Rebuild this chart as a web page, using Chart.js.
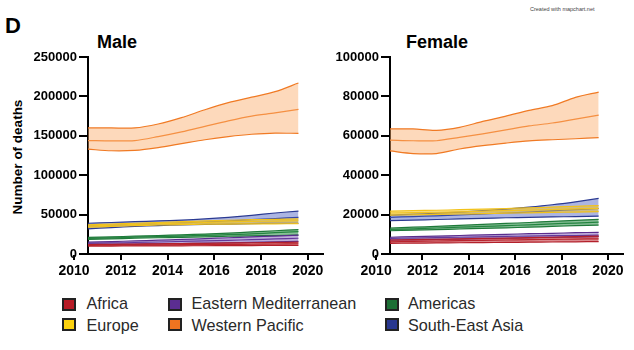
<!DOCTYPE html>
<html>
<head>
<meta charset="utf-8">
<script src="https://cdn.jsdelivr.net/npm/chart.js@4/dist/chart.umd.min.js"></script>
<style>
  body { margin: 0; background: #fff; font-family: "Liberation Sans", Arial, sans-serif; }
  #wrap { position: relative; width: 634px; height: 350px; overflow: hidden; }
  .box { position: absolute; top: 0; width: 330px; height: 290px; }
  .txt { position: absolute; white-space: nowrap; color: #000; }
  .bold { font-weight: bold; }
  .sq { position: absolute; width: 14px; height: 13px; box-sizing: border-box; border: 2px solid #222; }
  .lg { position: absolute; font-size: 16.2px; line-height: 15px; color: #2a2a2a; white-space: nowrap; }
</style>
</head>
<body>
<div id="wrap">
  <div class="txt bold" style="left:5px;top:14.6px;font-size:22px;line-height:22px;">D</div>
  <div class="txt" style="left:530px;top:6px;font-size:5.5px;color:#444;">Created with mapchart.net</div>
  <div class="txt bold" style="left:97px;top:33px;font-size:18px;line-height:18px;">Male</div>
  <div class="txt bold" style="left:406px;top:33px;font-size:18px;line-height:18px;">Female</div>
  <div class="txt bold" style="left:17px;top:157px;font-size:13.5px;transform:translate(-50%,-50%) rotate(-90deg);">Number of deaths</div>

  <div class="box" style="left:0px;"><canvas id="male-chart" width="330" height="290"></canvas></div>
  <div class="box" style="left:300px;"><canvas id="female-chart" width="330" height="290"></canvas></div>

  <div id="legend"></div>
</div>
<script>
// year positions as they sit on the printed axis
const years = [2010.6, 2011.6, 2012.6, 2013.6, 2014.6, 2015.6, 2016.6, 2017.6, 2018.6, 2019.6];
const xTicks = [2010, 2012, 2014, 2016, 2018, 2020];

// all values in thousands of deaths: [lower, estimate, upper]
const maleAfrica = [
  [10, 10.1, 10.2, 10.3, 10.4, 10.5, 10.6, 10.7, 10.9, 11],
  [11, 11.2, 11.4, 11.6, 11.8, 12, 12.2, 12.4, 12.7, 13],
  [12, 12.3, 12.6, 13, 13.3, 13.6, 14, 14.3, 14.7, 15],
];
const maleEastMed = [
  [12, 12.3, 12.6, 12.9, 13.3, 13.7, 14.2, 14.7, 15.3, 16],
  [13.5, 14, 14.6, 15.2, 15.9, 16.6, 17.4, 18.2, 19.1, 20],
  [15, 15.8, 16.6, 17.5, 18.5, 19.5, 20.6, 21.7, 22.8, 24],
];
const maleAmericas = [
  [18.5, 19.2, 20, 20.6, 21.2, 21.8, 22.5, 23, 23.5, 24],
  [19.8, 20.5, 21.3, 22, 22.8, 23.6, 24.5, 25.5, 27, 28.3],
  [21, 21.8, 22.6, 23.4, 24.3, 25.3, 26.5, 28, 29.5, 31],
];
const maleEurope = [
  [34, 35, 36, 36.8, 37.3, 37.8, 38, 38.2, 38.3, 38.5],
  [35.5, 36.5, 37.5, 38.5, 39.3, 40, 40.7, 41.3, 41.8, 42.2],
  [37, 38, 39, 40, 41, 42, 42.8, 43.5, 44, 44.5],
];
const maleWestPac = [
  [133, 131, 131.5, 135, 140, 145, 149, 152, 153.5, 153],
  [144, 143.5, 144, 149, 155, 162, 169, 175, 179, 183.5],
  [160, 160, 160, 165, 173, 183, 192, 199, 206, 217],
];
const maleSEAsia = [
  [32, 33.5, 35, 36, 37, 37.5, 38, 38.5, 39, 39],
  [35.5, 36.5, 37.5, 38.5, 39.5, 40.5, 42, 43.5, 45, 46.5],
  [39, 40, 41, 42, 43, 44.5, 46.5, 49, 52, 54.5],
];

const femaleAfrica = [
  [5.4, 5.5, 5.6, 5.7, 5.8, 5.9, 6, 6.1, 6.2, 6.3],
  [6.2, 6.4, 6.6, 6.8, 6.9, 7.1, 7.3, 7.4, 7.6, 7.7],
  [7.1, 7.3, 7.5, 7.7, 7.9, 8.1, 8.3, 8.5, 8.8, 9.1],
];
const femaleEastMed = [
  [7, 7.2, 7.4, 7.6, 7.8, 8, 8.2, 8.4, 8.6, 8.8],
  [7.9, 8.1, 8.3, 8.5, 8.7, 8.9, 9.1, 9.3, 9.4, 9.6],
  [8.5, 8.8, 9.1, 9.4, 9.7, 10, 10.3, 10.5, 10.8, 11],
];
const femaleAmericas = [
  [11.8, 12.1, 12.4, 12.7, 13, 13.3, 13.6, 14, 14.4, 14.7],
  [12.5, 12.8, 13.2, 13.6, 14, 14.4, 14.8, 15.3, 15.7, 16.2],
  [13.2, 13.6, 14, 14.5, 15, 15.5, 16, 16.6, 17.1, 17.6],
];
const femaleEurope = [
  [19.7, 19.9, 20.1, 20.3, 20.5, 20.7, 20.9, 21.1, 21.3, 21.5],
  [20.8, 21, 21.2, 21.4, 21.7, 22, 22.3, 22.6, 22.9, 23.2],
  [21.8, 22, 22.2, 22.5, 22.8, 23.1, 23.4, 23.8, 24.2, 24.6],
];
const femaleWestPac = [
  [52.3, 51, 51, 53.3, 55, 56.3, 57.4, 58, 58.5, 59.1],
  [57.8, 57.5, 57.5, 59.2, 61, 63, 65, 66.5, 68.5, 70.5],
  [63.5, 63.5, 62.8, 64.3, 67.3, 70, 72.9, 75.3, 79.5, 82.2],
];
const femaleSEAsia = [
  [16.9, 17.2, 17.5, 17.8, 18.1, 18.4, 18.6, 18.8, 19, 19.2],
  [18.6, 19, 19.4, 19.8, 20.3, 20.8, 21.3, 21.9, 22.5, 23.1],
  [19.7, 20.2, 20.7, 21.3, 22, 22.8, 23.8, 25, 26.5, 28.2],
];

const regions = ["Africa", "Eastern Mediterranean", "Americas", "Europe", "Western Pacific", "South-East Asia"];
const lineColors = ["#b3202b", "#5a2d8e", "#1f7a3a", "#f2c21a", "#f07a24", "#2b3a92"];
const fillColors = ["rgba(190,40,50,0.55)", "rgba(110,70,170,0.45)", "rgba(40,140,70,0.55)", "rgba(240,195,40,0.5)", "rgba(250,170,105,0.45)", "rgba(70,90,190,0.45)"];
const squareColors = ["#b71c27", "#5b2d91", "#1c6f35", "#fcd20f", "#f07420", "#28378f"];

const FONT = "'Liberation Sans', Arial, sans-serif";

function makeChart(canvas, seriesList, yMax, yStep, yWidth) {
  const datasets = [];
  const pts = arr => arr.map((v, k) => ({ x: years[k], y: v * 1000 }));
  // dataset 0 is drawn last, so Africa ends on top
  seriesList.forEach((series, i) => {
    const base = { borderColor: lineColors[i], borderWidth: 1.2, pointRadius: 0, tension: 0.3 };
    const lowIndex = datasets.length;
    datasets.push(Object.assign({ label: regions[i] + " low", data: pts(series[0]), fill: false }, base));
    datasets.push(Object.assign({ label: regions[i] + " high", data: pts(series[2]), fill: lowIndex, backgroundColor: fillColors[i] }, base));
    datasets.push(Object.assign({ label: regions[i], data: pts(series[1]), fill: false }, base));
  });
  return new Chart(canvas, {
    type: "line",
    data: { datasets: datasets },
    options: {
      responsive: false,
      animation: false,
      devicePixelRatio: 1,
      layout: { padding: { top: 57, right: 7, left: 0, bottom: 0 } },
      plugins: { legend: { display: false }, tooltip: { enabled: false } },
      scales: {
        x: {
          type: "linear",
          min: 2010.6,
          max: 2020.65,
          afterFit: s => { s.height = 36; },
          afterBuildTicks: s => { s.ticks = xTicks.map(v => ({ value: v })); },
          border: { display: true, color: "#000", width: 2 },
          grid: { drawOnChartArea: false, drawTicks: true, tickLength: 6, color: "#000", lineWidth: 2 },
          ticks: {
            autoSkip: false, maxRotation: 0, padding: 3, color: "#000",
            font: { family: FONT, size: 14, weight: "bold" },
            callback: v => String(v),
          },
        },
        y: {
          min: 0,
          max: yMax,
          afterFit: s => { s.width = yWidth; },
          border: { display: true, color: "#000", width: 2 },
          grid: { drawOnChartArea: false, drawTicks: true, tickLength: 9, color: "#000", lineWidth: 2 },
          ticks: {
            stepSize: yStep, padding: 2, color: "#000",
            font: { family: FONT, size: 13, weight: "bold" },
            callback: v => String(v),
          },
        },
      },
    },
  });
}

makeChart(document.getElementById("male-chart"),
  [maleAfrica, maleEastMed, maleAmericas, maleEurope, maleWestPac, maleSEAsia], 250000, 50000, 88);
makeChart(document.getElementById("female-chart"),
  [femaleAfrica, femaleEastMed, femaleAmericas, femaleEurope, femaleWestPac, femaleSEAsia], 100000, 20000, 90);

// legend
const legend = document.getElementById("legend");
const cols = [[62, 86.5], [168, 191.5], [385, 408]];
const rows = [[297.5, 296.2], [318.3, 318]];
const legendOrder = [[0, 1, 2], [3, 4, 5]];
legendOrder.forEach((row, r) => {
  row.forEach((i, c) => {
    const sq = document.createElement("div");
    sq.className = "sq";
    sq.style.left = cols[c][0] + "px";
    sq.style.top = rows[r][0] + "px";
    sq.style.background = squareColors[i];
    legend.appendChild(sq);
    const t = document.createElement("div");
    t.className = "lg";
    t.style.left = cols[c][1] + "px";
    t.style.top = rows[r][1] + "px";
    t.textContent = regions[i];
    legend.appendChild(t);
  });
});
</script>
</body>
</html>
